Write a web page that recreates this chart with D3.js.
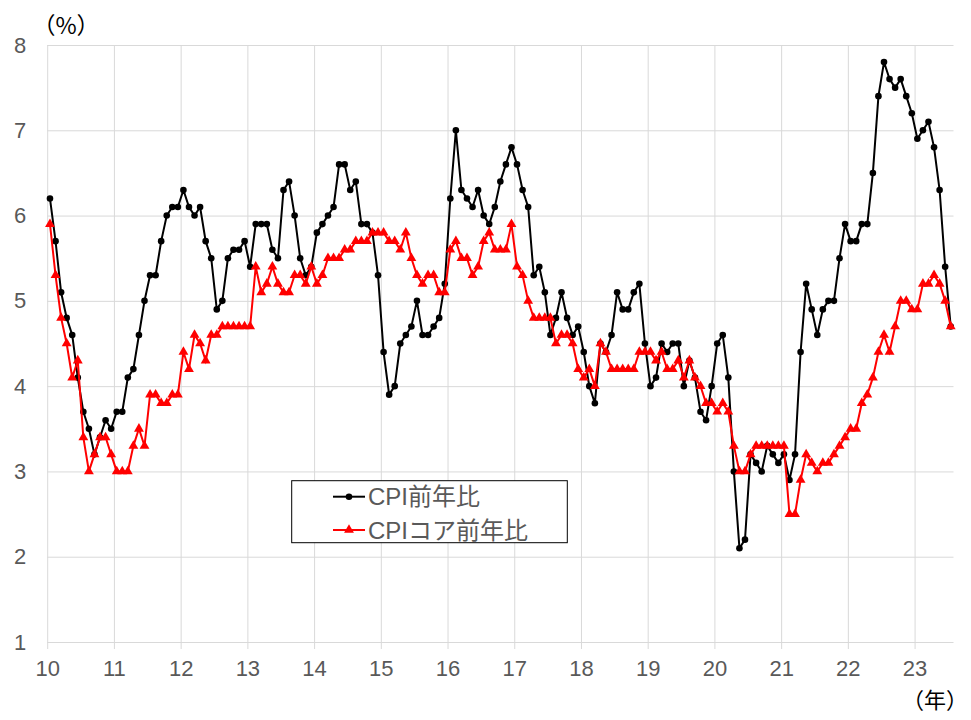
<!DOCTYPE html>
<html>
<head>
<meta charset="utf-8">
<script src="https://cdn.jsdelivr.net/npm/d3@7"></script>
<style>
	body { margin: 0; background: #fff; }
	text { font-family: "Liberation Sans", Arial, "Noto Sans CJK JP", sans-serif; }
</style>
</head>
<body>
<svg id="chart"></svg>
<script>
// monthly, Jan 2010 .. Jul 2023
const yearLabels = ['10', '11', '12', '13', '14', '15', '16', '17', '18', '19', '20', '21', '22', '23']
const yTicks = [1, 2, 3, 4, 5, 6, 7, 8]
const seriesNames = ['CPI前年比', 'CPIコア前年比']

const cpi = [
	6.2, 5.7, 5.1, 4.8, 4.6, 4.1, 3.7, 3.5, 3.2, 3.4, 3.6, 3.5,
	3.7, 3.7, 4.1, 4.2, 4.6, 5.0, 5.3, 5.3, 5.7, 6.0, 6.1, 6.1,
	6.3, 6.1, 6.0, 6.1, 5.7, 5.5, 4.9, 5.0, 5.5, 5.6, 5.6, 5.7,
	5.4, 5.9, 5.9, 5.9, 5.6, 5.5, 6.3, 6.4, 6.0, 5.5, 5.3, 5.4,
	5.8, 5.9, 6.0, 6.1, 6.6, 6.6, 6.3, 6.4, 5.9, 5.9, 5.8, 5.3,
	4.4, 3.9, 4.0, 4.5, 4.6, 4.7, 5.0, 4.6, 4.6, 4.7, 4.8, 5.2,
	6.2, 7.0, 6.3, 6.2, 6.1, 6.3, 6.0, 5.9, 6.1, 6.4, 6.6, 6.8,
	6.6, 6.3, 6.1, 5.3, 5.4, 5.1, 4.6, 4.8, 5.1, 4.8, 4.6, 4.7,
	4.4, 4.0, 3.8, 4.5, 4.4, 4.6, 5.1, 4.9, 4.9, 5.1, 5.2, 4.5,
	4.0, 4.1, 4.5, 4.4, 4.5, 4.5, 4.0, 4.3, 4.1, 3.7, 3.6, 4.0,
	4.5, 4.6, 4.1, 3.0, 2.1, 2.2, 3.2, 3.1, 3.0, 3.3, 3.2, 3.1,
	3.2, 2.9, 3.2, 4.4, 5.2, 4.9, 4.6, 4.9, 5.0, 5.0, 5.5, 5.9,
	5.7, 5.7, 5.9, 5.9, 6.5, 7.4, 7.8, 7.6, 7.5, 7.6, 7.4, 7.2,
	6.9, 7.0, 7.1, 6.8, 6.3, 5.4, 4.7,
]

const core = [
	5.9, 5.3, 4.8, 4.5, 4.1, 4.3, 3.4, 3.0, 3.2, 3.4, 3.4, 3.2,
	3.0, 3.0, 3.0, 3.3, 3.5, 3.3, 3.9, 3.9, 3.8, 3.8, 3.9, 3.9,
	4.4, 4.2, 4.6, 4.5, 4.3, 4.6, 4.6, 4.7, 4.7, 4.7, 4.7, 4.7,
	4.7, 5.4, 5.1, 5.2, 5.4, 5.2, 5.1, 5.1, 5.3, 5.3, 5.2, 5.4,
	5.2, 5.3, 5.5, 5.5, 5.5, 5.6, 5.6, 5.7, 5.7, 5.7, 5.8, 5.8,
	5.8, 5.7, 5.7, 5.6, 5.8, 5.5, 5.3, 5.2, 5.3, 5.3, 5.1, 5.1,
	5.6, 5.7, 5.5, 5.5, 5.3, 5.4, 5.7, 5.8, 5.6, 5.6, 5.6, 5.9,
	5.4, 5.3, 5.0, 4.8, 4.8, 4.8, 4.8, 4.5, 4.6, 4.6, 4.5, 4.2,
	4.1, 4.2, 4.0, 4.5, 4.4, 4.2, 4.2, 4.2, 4.2, 4.2, 4.4, 4.4,
	4.4, 4.3, 4.4, 4.2, 4.2, 4.3, 4.1, 4.3, 4.1, 4.0, 3.8, 3.8,
	3.7, 3.8, 3.7, 3.3, 3.0, 3.0, 3.2, 3.3, 3.3, 3.3, 3.3, 3.3,
	3.3, 2.5, 2.5, 2.9, 3.2, 3.1, 3.0, 3.1, 3.1, 3.2, 3.3, 3.4,
	3.5, 3.5, 3.8, 3.9, 4.1, 4.4, 4.6, 4.4, 4.7, 5.0, 5.0, 4.9,
	4.9, 5.2, 5.2, 5.3, 5.2, 5.0, 4.7,
]

const width = 971,
	height = 720
const plot = { left: 47.2, right: 953.5, top: 45, bottom: 642 }
const grey = '#595959',
	gridColor = '#d9d9d9'

const svg = d3.select('#chart').attr('width', width).attr('height', height)

// category axis: one slot per month, gridlines between Dec and Jan
const x = d3
	.scaleLinear()
	.domain([-0.5, cpi.length - 0.5])
	.range([plot.left, plot.right])
const y = d3.scaleLinear().domain([1, 8]).range([plot.bottom, plot.top])

const yearTicks = yearLabels.map((d, k) => k * 12 - 0.5)

// horizontal grid + y labels
const gy = svg
	.append('g')
	.attr('transform', `translate(${plot.left},0)`)
	.call(
		d3
			.axisLeft(y)
			.tickValues(yTicks)
			.tickSize(-(plot.right - plot.left))
			.tickPadding(21)
			.tickFormat(d3.format('d'))
	)
gy.select('.domain').remove()
gy.selectAll('line').attr('stroke', gridColor)
gy.selectAll('text').attr('fill', grey).style('font-size', '22px')

// vertical grid (extends below axis as tick marks) + year labels
const gx = svg
	.append('g')
	.attr('transform', `translate(0,${plot.bottom + 7})`)
	.call(
		d3
			.axisBottom(x)
			.tickValues(yearTicks)
			.tickSize(-(plot.bottom + 7 - plot.top))
			.tickPadding(11)
			.tickFormat((d, i) => yearLabels[i])
	)
gx.select('.domain').remove()
gx.selectAll('line').attr('stroke', gridColor)
gx.selectAll('text').attr('fill', grey).style('font-size', '22px')

const line = d3
	.line()
	.x((d, i) => x(i))
	.y((d) => y(d))

// CPI
svg.append('path')
	.datum(cpi)
	.attr('fill', 'none')
	.attr('stroke', '#000')
	.attr('stroke-width', 2)
	.attr('d', line)
svg.append('g')
	.selectAll('circle')
	.data(cpi)
	.join('circle')
	.attr('cx', (d, i) => x(i))
	.attr('cy', (d) => y(d))
	.attr('r', 3.3)
	.attr('fill', '#000')

// core CPI
const tri = d3.symbol(d3.symbolTriangle, 42)
svg.append('path')
	.datum(core)
	.attr('fill', 'none')
	.attr('stroke', '#ff0000')
	.attr('stroke-width', 2)
	.attr('d', line)
svg.append('g')
	.selectAll('path')
	.data(core)
	.join('path')
	.attr('d', tri)
	.attr('transform', (d, i) => `translate(${x(i)},${y(d)})`)
	.attr('fill', '#ff0000')

// unit labels
svg.append('text')
	.attr('x', 66)
	.attr('y', 34)
	.attr('text-anchor', 'middle')
	.style('font-size', '23px')
	.style('font-family', '"Noto Sans CJK JP", sans-serif')
	.attr('fill', '#000')
	.text('（%）')

svg.append('text')
	.attr('x', 935)
	.attr('y', 708)
	.attr('text-anchor', 'middle')
	.style('font-size', '22px')
	.style('font-family', '"Noto Sans CJK JP", sans-serif')
	.attr('fill', '#000')
	.text('（年）')

// legend
const legend = svg.append('g')
legend
	.append('rect')
	.attr('x', 291.7)
	.attr('y', 480.7)
	.attr('width', 275.6)
	.attr('height', 62)
	.attr('fill', '#fff')
	.attr('stroke', '#000')
	.attr('stroke-width', 1)

const rows = [
	{ name: seriesNames[0], color: '#000', mark: 'circle', cy: 496.7 },
	{ name: seriesNames[1], color: '#ff0000', mark: 'triangle', cy: 530 },
]
rows.forEach((r) => {
	legend
		.append('line')
		.attr('x1', 333)
		.attr('x2', 365)
		.attr('y1', r.cy)
		.attr('y2', r.cy)
		.attr('stroke', r.color)
		.attr('stroke-width', 2)
	if (r.mark === 'circle') {
		legend.append('circle').attr('cx', 349).attr('cy', r.cy).attr('r', 3.3).attr('fill', r.color)
	} else {
		legend
			.append('path')
			.attr('d', tri)
			.attr('transform', `translate(349,${r.cy})`)
			.attr('fill', r.color)
	}
	legend
		.append('text')
		.attr('x', 368)
		.attr('y', r.cy)
		.attr('dominant-baseline', 'central')
		.attr('fill', grey)
		.style('font-size', '24px')
		.text(r.name)
})
</script>
</body>
</html>
